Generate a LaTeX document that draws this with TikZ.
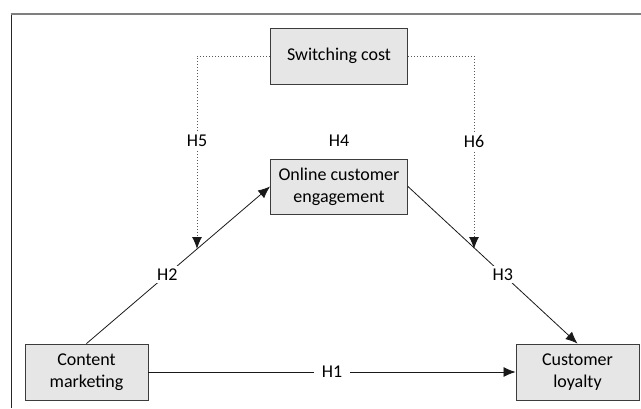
\documentclass[tikz,border=0pt]{standalone}
\usepackage{fontspec}
\setmainfont{Carlito}
\usetikzlibrary{arrows.meta}
\definecolor{boxfill}{HTML}{E6E6E6}
\definecolor{boxdraw}{HTML}{3C3C3C}
\definecolor{framegray}{HTML}{7F7F7F}
\begin{document}
\begin{tikzpicture}[x=1pt,y=-1pt,
  box/.style={draw=boxdraw,fill=boxfill,line width=0.9pt,minimum width=137pt,minimum height=56pt,align=center,font=\fontsize{18}{22}\selectfont,inner sep=2pt},
  sbox/.style={box,minimum width=123pt},
  conn/.style={line width=0.8pt,draw=black!90},
  tip/.style={-{Latex[length=12pt,width=10pt]}},
  dtip/.style={-{Latex[length=12pt,width=10pt,color=black!90]}},
  dots/.style={line width=1pt,draw=black!65,dotted},
  lbl/.style={fill=white,inner sep=3pt,font=\fontsize{18}{22}\selectfont}]
\useasboundingbox (0,0) rectangle (641,408);
% frame
\draw[line width=1pt,draw=black!85] (11,14) -- (11,408);
\draw[line width=1.5pt,draw=framegray] (10.5,14) -- (641,14);
% nodes
\node[box] (sw) at (339,56) {Switching cost};
\node[box,minimum height=55pt] (oce) at (339,186.5) {Online customer\\engagement};
\node[sbox] (cm) at (86.5,372) {Content\\marketing};
\node[sbox] (cl) at (577.5,372) {Customer\\loyalty};
\coordinate (t5) at (197,249);
\coordinate (t6) at (474,249);
% moderating (dotted)
\draw[dots,dtip] (sw.west) -| (t5);
\draw[dots,dtip] (sw.east) -| (t6);
\node[lbl] (h5) at (197,141) {H5};
\node[lbl] (h6) at (474,141) {H6};
% H4 label
\node[lbl] (h4) at (339,141) {H4};
% main paths
\draw[conn,tip] (cm.north) -- node[lbl,pos=0.44] (h2) {H2} (oce.west);
\draw[conn,tip] (oce.east) -- node[lbl,pos=0.56] (h3) {H3} (cl.north);
\draw[conn,tip] (cm.east) -- node[lbl,pos=0.5,inner xsep=8pt] (h1) {H1} (cl.west);
\end{tikzpicture}
\end{document}
